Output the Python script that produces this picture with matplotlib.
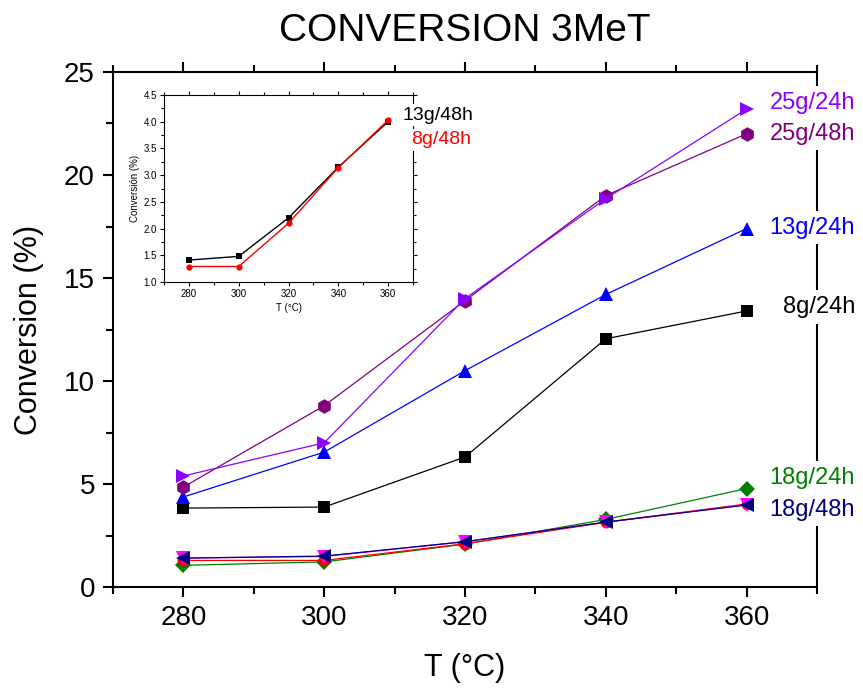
import matplotlib
matplotlib.use("Agg")
import matplotlib.pyplot as plt
from matplotlib.ticker import MultipleLocator

plt.rcParams['font.family'] = ['Liberation Sans', 'DejaVu Sans']

# ---------------- data ----------------
temps = [280, 300, 320, 340, 360]

conv_25g_24h = [5.39, 7.00, 14.00, 18.85, 23.20]
conv_25g_48h = [4.85, 8.80, 13.90, 19.00, 22.00]
conv_13g_24h = [4.37, 6.55, 10.50, 14.20, 17.40]
conv_8g_24h = [3.83, 3.88, 6.31, 12.05, 13.40]
conv_18g_24h = [1.05, 1.22, 2.08, 3.28, 4.78]
conv_8g_48h = [1.29, 1.29, 2.10, 3.14, 4.03]
conv_13g_48h = [1.41, 1.48, 2.20, 3.15, 4.00]
conv_18g_48h = [1.40, 1.50, 2.20, 3.15, 3.98]

inset_13g_48h = [1.41, 1.48, 2.20, 3.15, 4.00]
inset_8g_48h = [1.29, 1.29, 2.10, 3.14, 4.03]

title = "CONVERSION 3MeT"
xlabel = "T (°C)"
ylabel = "Conversion (%)"
inset_ylabel = "Conversión (%)"

# ---------------- figure ----------------
W, H = 863, 688
fig = plt.figure(figsize=(W / 100, H / 100), dpi=100)
ax = fig.add_axes([113 / W, 1 - 587 / H, (817 - 113) / W, (587 - 72) / H])

lw = 0.9
series = [
    (conv_18g_24h, '#008000', 'D', 8.5),
    (conv_8g_48h, '#ff0000', 'o', 8.5),
    (conv_13g_48h, '#ff00ff', 'v', 9.5),
    (conv_18g_48h, '#000080', '<', 9.5),
    (conv_8g_24h, '#000000', 's', 8.5),
    (conv_13g_24h, '#0000ff', '^', 9.5),
    (conv_25g_48h, '#800080', 'h', 10.5),
    (conv_25g_24h, '#8b00ff', '>', 9.5),
]
for vals, col, mk, ms in series:
    ax.plot(temps, vals, color=col, marker=mk, markersize=ms, lw=lw,
            markeredgewidth=0, clip_on=False, zorder=4)

ax.set_xlim(270, 370)
ax.set_ylim(0, 25)
ax.xaxis.set_major_locator(MultipleLocator(20))
ax.xaxis.set_minor_locator(MultipleLocator(10))
ax.yaxis.set_major_locator(MultipleLocator(5))
ax.yaxis.set_minor_locator(MultipleLocator(2.5))
for sp in ax.spines.values():
    sp.set_linewidth(1.5)
ax.tick_params(which='major', direction='out', length=7, width=1.5,
               labelsize=20, pad=6)
ax.tick_params(which='minor', direction='out', length=5, width=1.5)
ax.tick_params(which='both', top=True, right=False, labeltop=False)

ax.set_xlabel(xlabel, fontsize=22, labelpad=16)
ax.set_ylabel(ylabel, fontsize=22, labelpad=14)
fig.text(465 / W, 1 - 31 / H, title, fontsize=28, ha='center', va='center')

# series labels on the right (right-aligned)
labels = [
    ("25g/24h", '#8b00ff', 23.50),
    ("25g/48h", '#800080', 22.00),
    ("13g/24h", '#0000ff', 17.45),
    ("8g/24h", '#000000', 13.60),
    ("18g/24h", '#008000', 5.30),
    ("18g/48h", '#000080', 3.75),
]
for txt, col, yv in labels:
    ax.text(375.4, yv, txt, color=col, fontsize=17, ha='right', va='center',
            clip_on=False, zorder=6,
            bbox=dict(facecolor='white', edgecolor='none', pad=4))

# ---------------- inset ----------------
ins = fig.add_axes([164 / W, 1 - 282 / H, (413 - 164) / W, (282 - 95) / H])
ins.plot(temps, inset_8g_48h, color='#ff0000', marker='o', markersize=4.5,
         lw=1.0, markeredgewidth=0, zorder=3)
ins.plot(temps, inset_13g_48h, color='#000000', marker='s', markersize=4.5,
         lw=1.0, markeredgewidth=0, zorder=2)
ins.set_xlim(270, 370)
ins.set_ylim(1.0, 4.5)
ins.xaxis.set_major_locator(MultipleLocator(20))
ins.xaxis.set_minor_locator(MultipleLocator(10))
ins.yaxis.set_major_locator(MultipleLocator(0.5))
ins.yaxis.set_minor_locator(MultipleLocator(0.25))
for sp in ins.spines.values():
    sp.set_linewidth(0.8)
ins.tick_params(which='major', direction='out', length=3, width=0.8,
                labelsize=7, pad=2)
ins.tick_params(which='minor', direction='out', length=2, width=0.8)
ins.tick_params(which='both', top=True, right=True, labeltop=False)
ins.set_xlabel(xlabel, fontsize=7, labelpad=3)
ins.set_ylabel(inset_ylabel, fontsize=7, labelpad=3)

fig.text(473 / W, 1 - 115 / H, "13g/48h", color='#000000', fontsize=14,
         ha='right', va='center', zorder=10,
         bbox=dict(facecolor='white', edgecolor='none', pad=2))
fig.text(471 / W, 1 - 140 / H, "8g/48h", color='#ff0000', fontsize=14,
         ha='right', va='center', zorder=10,
         bbox=dict(facecolor='white', edgecolor='none', pad=2))

fig.savefig("out.png", dpi=100)
